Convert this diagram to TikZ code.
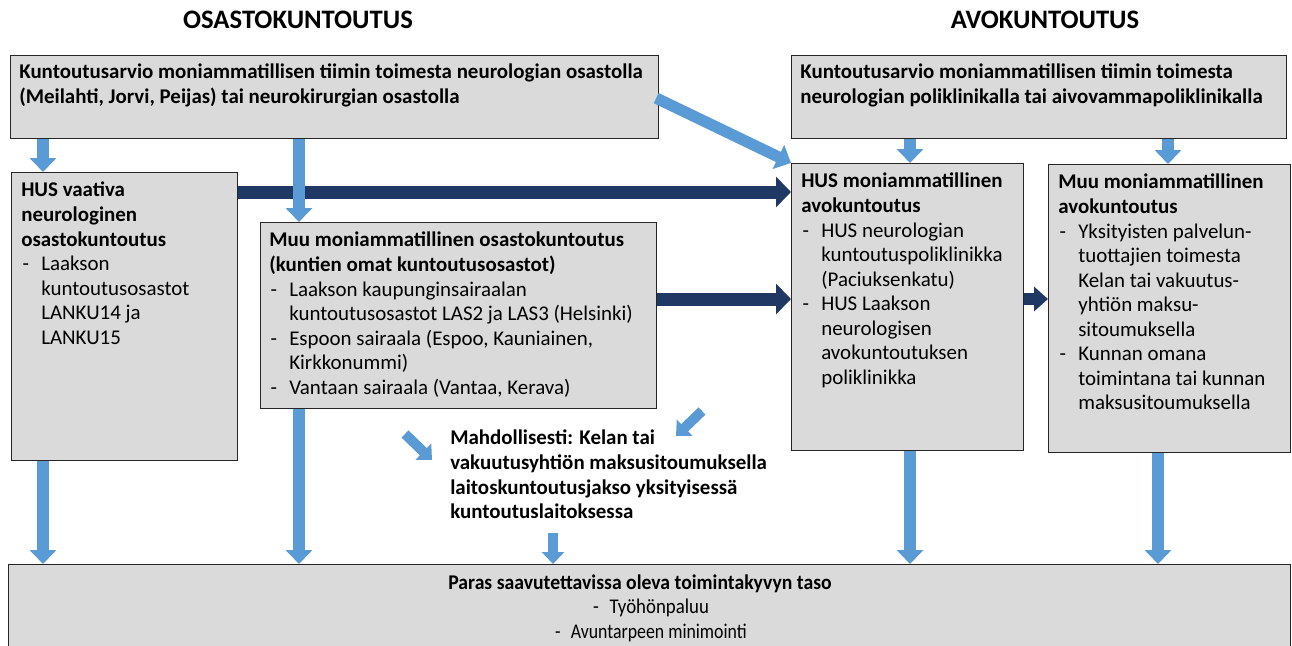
\documentclass[tikz,border=0pt]{standalone}
\usepackage{fontspec}
\setmainfont{Carlito}
\usetikzlibrary{arrows.meta}
\definecolor{boxgray}{RGB}{218,218,218}
\definecolor{lblue}{RGB}{91,155,213}
\definecolor{dblue}{RGB}{31,56,100}
\newlength{\bi}\setlength{\bi}{15pt}
\newcommand{\dsh}{\makebox[\bi][l]{\hspace{1pt}-}}
\newcommand{\ind}{\hspace*{\bi}}
\begin{document}
\begin{tikzpicture}[x=0.75pt,y=-0.75pt,
  box/.style={draw=black!85, line width=0.9pt, fill=boxgray, inner sep=0pt, anchor=north west},
  sz/.style 2 args={minimum width=#1*0.75pt, minimum height=#2*0.75pt},
  txt/.style={anchor=north west, inner sep=0pt, align=left, font=\fontsize{15.7}{18.4}\selectfont},
  btxt/.style={txt, font=\fontsize{15.7}{18.4}\selectfont\bfseries},
  ttl/.style={inner sep=0pt, font=\fontsize{20}{22}\selectfont\bfseries},
  lba/.style={draw=lblue, line width=8.5pt, -{Triangle[width=19.5pt,length=10.5pt]}},
  lbs/.style={draw=lblue, line width=7.5pt, -{Triangle[width=16.5pt,length=9pt]}},
  dba/.style={draw=dblue, line width=9.75pt, -{Triangle[width=22.5pt,length=11.25pt]}},
  dbs/.style={draw=dblue, line width=8.5pt, -{Triangle[width=18pt,length=10.5pt]}}]
\useasboundingbox (0,0) rectangle (1292,646);
\fill[white] (0,0) rectangle (1292,646);

% titles
\node[ttl] (T1) at (298,20) {OSASTOKUNTOUTUS};
\node[ttl] (T2) at (1045,20) {AVOKUNTOUTUS};

% boxes
\node[box, sz={648}{83}] (A) at (10,55) {};
\node[box, sz={495}{83}] (B) at (791,55) {};
\node[box, sz={226}{288}] (C) at (11,172) {};
\node[box, sz={396}{186}] (D) at (260,222) {};
\node[box, sz={232}{287}] (E) at (791,163) {};
\node[box, sz={242}{288}] (F) at (1048,164) {};
\node[box, sz={1282}{90}] (H) at (8,564) {};

% texts
\node[btxt] (At) at (19,64) {Kuntoutusarvio moniammatillisen tiimin toimesta neurologian osastolla\\(Meilahti, Jorvi, Peijas) tai neurokirurgian osastolla};
\node[btxt] (Bt) at (800,64) {Kuntoutusarvio moniammatillisen tiimin toimesta\\neurologian poliklinikalla tai aivovammapoliklinikalla};
\node[txt] (Ct) at (21,182) {\textbf{HUS vaativa}\\\textbf{neurologinen}\\\textbf{osastokuntoutus}\\\dsh Laakson\\\ind kuntoutusosastot\\\ind LANKU14 ja\\\ind LANKU15};
\node[txt] (Dt) at (269,232) {\textbf{Muu moniammatillinen osastokuntoutus}\\\textbf{(kuntien omat kuntoutusosastot)}\\\dsh Laakson kaupunginsairaalan\\\ind kuntoutusosastot LAS2 ja LAS3 (Helsinki)\\\dsh Espoon sairaala (Espoo, Kauniainen,\\\ind Kirkkonummi)\\\dsh Vantaan sairaala (Vantaa, Kerava)};
\node[txt] (Et) at (801,173) {\textbf{HUS moniammatillinen}\\\textbf{avokuntoutus}\\\dsh HUS neurologian\\\ind kuntoutuspoliklinikka\\\ind (Paciuksenkatu)\\\dsh HUS Laakson\\\ind neurologisen\\\ind avokuntoutuksen\\\ind poliklinikka};
\node[txt] (Ft) at (1058,174) {\textbf{Muu moniammatillinen}\\\textbf{avokuntoutus}\\\dsh Yksityisten palvelun-\\\ind tuottajien toimesta\\\ind Kelan tai vakuutus-\\\ind yhtiön maksu-\\\ind sitoumuksella\\\dsh Kunnan omana\\\ind toimintana tai kunnan\\\ind maksusitoumuksella};
\node[btxt] (G) at (450,430) {Mahdollisesti: Kelan tai\\vakuutusyhtiön maksusitoumuksella\\laitoskuntoutusjakso yksityisessä\\kuntoutuslaitoksessa};
\node[inner sep=0pt, font=\fontsize{15.7}{18.4}\selectfont\bfseries] (Hh) at (640,584) {\scalebox{0.94}[1]{Paras saavutettavissa oleva toimintakyvyn taso}};
\node[inner sep=0pt, font=\fontsize{15.7}{18.4}\selectfont] (Hb1) at (651,608) {\scalebox{0.9}[1]{-\hspace{9pt}Työhönpaluu}};
\node[inner sep=0pt, font=\fontsize{15.7}{18.4}\selectfont] (Hb2) at (651,633) {\scalebox{0.85}[1]{-\hspace{9pt}Avuntarpeen minimointi}};

% helper coordinates
\coordinate (c1) at (43,0);
\coordinate (c2) at (299,0);
\coordinate (c3) at (553,0);
\coordinate (c4) at (910,0);
\coordinate (c5) at (1168,0);
\coordinate (c6) at (1158,0);
\coordinate (r1) at (0,192);
\coordinate (r2) at (0,299);
\coordinate (r3) at (0,299);
\coordinate (g1s) at (405,434);
\coordinate (g1e) at (432,460);
\coordinate (g2s) at (702,411);
\coordinate (g2e) at (676,436);
\coordinate (ge) at (553,533);

% dark arrows
\draw[dba] (C.east |- r1) -- (E.west |- r1);
\draw[dba] (D.east |- r2) -- (E.west |- r2);
\draw[dbs] (E.east |- r3) -- (F.west |- r3);

% light blue arrows
\draw[lba] (A.south -| c1) -- (C.north -| c1);
\draw[lba] (A.south -| c2) -- (D.north -| c2);
\draw[lba] (A.east) ++(-3,1) -- (E.north west);
\draw[lba] (B.south -| c4) -- (E.north -| c4);
\draw[lba] (B.south -| c5) -- (F.north -| c5);
\draw[lba] (C.south -| c1) -- (H.north -| c1);
\draw[lba] (D.south -| c2) -- (H.north -| c2);
\draw[lba] (E.south -| c4) -- (H.north -| c4);
\draw[lba] (F.south -| c6) -- (H.north -| c6);
\draw[lbs] (g1s) -- (g1e);
\draw[lbs] (g2s) -- (g2e);
\draw[lbs] (ge) -- (H.north -| c3);
\end{tikzpicture}
\end{document}
